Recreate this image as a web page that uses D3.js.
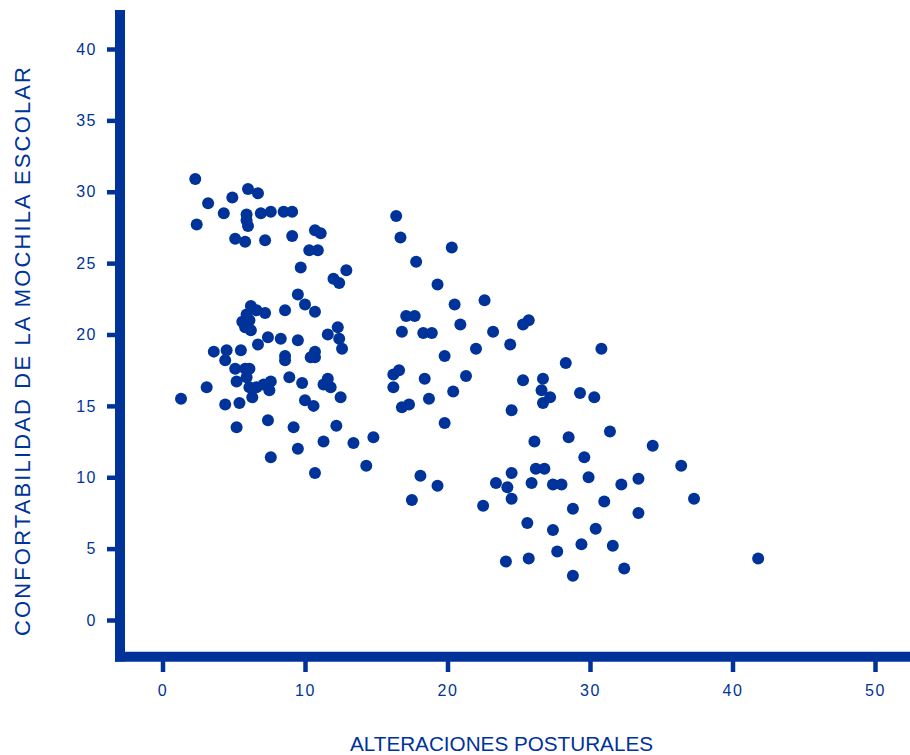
<!DOCTYPE html>
<html>
<head>
<meta charset="utf-8">
<script src="https://cdn.jsdelivr.net/npm/d3@7/dist/d3.min.js"></script>
<style>
  body { margin: 0; background: #fff; }
  svg { display: block; }
</style>
</head>
<body>
<svg id="svg" width="910" height="755"></svg>
<script>
// Data =============================================================
// x values: alteraciones posturales
var alteraciones = [
  2.3, 3.2, 2.4, 4.3, 4.9, 6.0, 6.7, 5.9, 5.9, 6.0,
  5.1, 5.8, 6.9, 7.6, 8.5, 9.1, 7.2, 9.1, 10.7, 11.1,
  10.3, 10.9, 9.7, 12.9, 12.0, 12.4, 9.5, 10.0, 10.7, 8.6,
  6.2, 6.6, 7.2, 5.9, 5.6, 6.1, 5.8, 6.2, 12.3, 11.6,
  12.4, 12.6, 7.4, 8.3, 9.5, 6.7, 3.6, 4.5, 4.4, 5.5,
  8.6, 8.6, 10.7, 10.4, 10.7, 5.1, 5.8, 6.1, 5.9, 5.2,
  7.6, 8.9, 9.8, 11.6, 11.3, 11.8, 6.1, 6.6, 7.1, 7.5,
  6.3, 3.1, 1.3, 4.4, 5.4, 10.0, 10.6, 12.5, 5.2, 7.4,
  9.2, 12.2, 11.3, 13.4, 14.8, 9.5, 7.6, 14.3, 10.7,
  16.4, 16.7, 20.3, 17.8, 19.3, 20.5, 22.6, 17.1, 17.7, 16.8,
  18.3, 18.9, 20.9, 23.2, 25.3, 25.7, 24.4, 22.0, 19.8, 28.3,
  30.8, 16.2, 16.6, 16.2, 18.4, 21.3, 25.3, 26.7, 26.6, 27.2,
  26.7, 29.3, 30.3, 16.8, 17.3, 18.7, 20.4, 24.5, 19.8, 26.1,
  28.5, 18.1, 19.3, 17.5, 31.4, 34.4, 29.6, 36.4, 26.2, 26.8,
  24.5, 23.4, 24.2, 24.5, 25.9, 27.4, 28.0, 29.9, 33.4, 32.2,
  37.3, 22.5, 28.8, 31.0, 33.4, 25.6, 27.4, 30.4, 29.4, 31.6,
  27.7, 24.1, 25.7, 32.4, 28.8, 41.8
];

// y values: confortabilidad de la mochila escolar
var confortabilidad = [
  30.9, 29.2, 27.7, 28.5, 29.6, 30.2, 29.9, 28.4, 28.0, 27.6,
  26.7, 26.5, 28.5, 28.6, 28.6, 28.6, 26.6, 26.9, 27.3, 27.1,
  25.9, 25.9, 24.7, 24.5, 23.9, 23.6, 22.8, 22.1, 21.6, 21.7,
  22.0, 21.7, 21.5, 21.4, 20.9, 21.0, 20.5, 20.3, 20.5, 20.0,
  19.7, 19.0, 19.8, 19.7, 19.6, 19.3, 18.8, 18.9, 18.2, 18.9,
  18.5, 18.2, 18.8, 18.4, 18.4, 17.6, 17.6, 17.6, 17.0, 16.7,
  16.7, 17.0, 16.6, 16.9, 16.5, 16.3, 16.3, 16.3, 16.5, 16.1,
  15.6, 16.3, 15.5, 15.1, 15.2, 15.4, 15.0, 15.6, 13.5, 14.0,
  13.5, 13.6, 12.5, 12.4, 12.8, 12.0, 11.4, 10.8, 10.3,
  28.3, 26.8, 26.1, 25.1, 23.5, 22.1, 22.4, 21.3, 21.3, 20.2,
  20.1, 20.1, 20.7, 20.2, 20.7, 21.0, 19.3, 19.0, 18.5, 18.0,
  19.0, 17.2, 17.5, 16.3, 16.9, 17.1, 16.8, 16.9, 16.1, 15.6,
  15.2, 15.9, 15.6, 14.9, 15.1, 15.5, 16.0, 14.7, 13.8, 12.5,
  12.8, 10.1, 9.4, 8.4, 13.2, 12.2, 11.4, 10.8, 10.6, 10.6,
  10.3, 9.6, 9.3, 8.5, 9.6, 9.5, 9.5, 10.0, 9.9, 9.5,
  8.5, 8.0, 7.8, 8.3, 7.5, 6.8, 6.3, 6.4, 5.3, 5.2,
  4.8, 4.1, 4.3, 3.6, 3.1, 4.3
];

var xTicks = [0, 10, 20, 30, 40, 50];
var yTicks = [0, 5, 10, 15, 20, 25, 30, 35, 40];

var xTitle = "ALTERACIONES POSTURALES";
var yTitle = "CONFORTABILIDAD DE LA MOCHILA ESCOLAR";

// Drawing =============================================================
var blue = "#003399";
var svg = d3.select("#svg");

var xScale = d3.scaleLinear().domain([0, 50]).range([162.5, 875]);
var yScale = d3.scaleLinear().domain([0, 40]).range([620, 49]);

// y axis: ticks and labels
var yAxis = d3.axisLeft(yScale)
  .tickValues(yTicks)
  .tickSize(9)
  .tickPadding(10);

var gy = svg.append("g")
  .attr("transform", "translate(116,0)")
  .call(yAxis);

// x axis: ticks and labels
var xAxis = d3.axisBottom(xScale)
  .tickValues(xTicks)
  .tickSize(11)
  .tickPadding(13);

var gx = svg.append("g")
  .attr("transform", "translate(0,661)")
  .call(xAxis);

[gx, gy].forEach(function(g) {
  g.select(".domain").remove();
  g.selectAll(".tick line")
    .attr("stroke", blue)
    .attr("stroke-width", 4.5);
  g.selectAll(".tick text")
    .attr("fill", blue)
    .style("font-family", "Liberation Sans, Arial, sans-serif")
    .style("font-size", "16px")
    .style("letter-spacing", "1.5px");
});

// thick axis lines
svg.append("line")
  .attr("x1", 120).attr("x2", 120)
  .attr("y1", 10).attr("y2", 661.5)
  .attr("stroke", blue)
  .attr("stroke-width", 10);

svg.append("line")
  .attr("x1", 115).attr("x2", 910)
  .attr("y1", 656.7).attr("y2", 656.7)
  .attr("stroke", blue)
  .attr("stroke-width", 10);

// points
var pts = alteraciones.map(function(d, i) {
  return { x: d, y: confortabilidad[i] };
});

svg.append("g").selectAll("circle")
  .data(pts)
  .enter()
  .append("circle")
  .attr("cx", function(d) { return xScale(d.x); })
  .attr("cy", function(d) { return yScale(d.y); })
  .attr("r", 6)
  .style("fill", blue);

// axis titles
svg.append("text")
  .attr("x", 350)
  .attr("y", 751)
  .attr("textLength", 303)
  .attr("lengthAdjust", "spacingAndGlyphs")
  .attr("fill", blue)
  .style("font-family", "Liberation Sans, Arial, sans-serif")
  .style("font-size", "20px")
  .text(xTitle);

svg.append("text")
  .attr("transform", "translate(30,636) rotate(-90)")
  .attr("textLength", 569)
  .attr("lengthAdjust", "spacing")
  .attr("fill", blue)
  .style("font-family", "Liberation Sans, Arial, sans-serif")
  .style("font-size", "22px")
  .text(yTitle);
</script>
</body>
</html>
